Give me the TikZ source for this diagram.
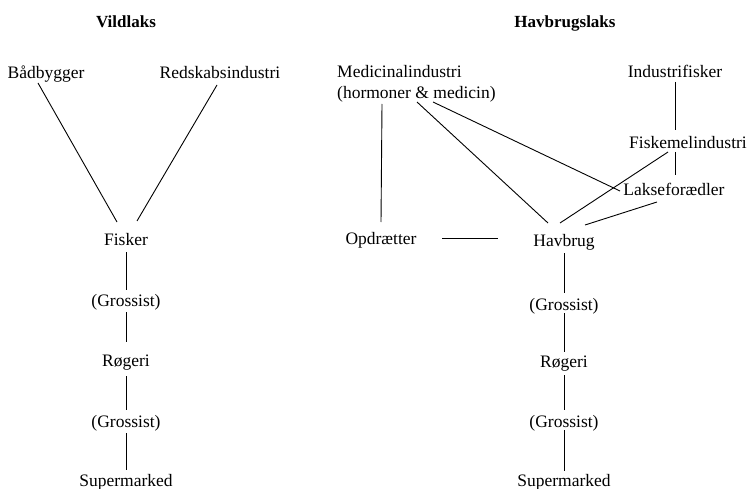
\documentclass[tikz,border=0pt]{standalone}
\usepackage{fontspec}
\setmainfont{Liberation Serif}
\usetikzlibrary{calc}
\begin{document}
\begin{tikzpicture}[x=1pt,y=-1pt,
  lbl/.style={inner sep=0pt,anchor=base,font=\fontsize{17.5}{21}\selectfont},
  ttl/.style={inner sep=0pt,anchor=base,font=\fontsize{17}{20}\selectfont\bfseries},
  ln/.style={line width=0.9pt}]
\useasboundingbox (0,0) rectangle (749,489);
% titles
\node[ttl] (t1) at (126,28) {Vildlaks};
\node[ttl] (t2) at (565,28) {Havbrugslaks};
% left
\node[lbl] (bad) at (46,79) {Bådbygger};
\node[lbl] (red) at (220,79) {Redskabsindustri};
\node[lbl] (fisk) at (126,245) {Fisker};
\node[lbl] (g1) at (126,306) {(Grossist)};
\node[lbl] (rog) at (126,366) {Røgeri};
\node[lbl] (g2) at (126,427) {(Grossist)};
\node[lbl] (sup) at (126,486) {Supermarked};
% right
\node[lbl,anchor=west,align=left] (med) at (337,84) {Medicinalindustri\\(hormoner \& medicin)};
\node[lbl] (ind) at (675,78) {Industrifisker};
\node[lbl] (fm) at (688,149) {Fiskemelindustri};
\node[lbl] (lk) at (674,196) {Lakseforædler};
\node[lbl] (opd) at (381,244) {Opdrætter};
\node[lbl] (hav) at (564,246) {Havbrug};
\node[lbl] (g3) at (564,310) {(Grossist)};
\node[lbl] (rog2) at (564,367) {Røgeri};
\node[lbl] (g4) at (564,427) {(Grossist)};
\node[lbl] (sup2) at (564,486) {Supermarked};
% left connectors
\draw[ln] ($(bad.base)+(-8,4)$) -- ($(fisk.base)+(-9,-23)$);
\draw[ln] ($(red.base)+(-3,6)$) -- ($(fisk.base)+(11,-24)$);
\draw[ln] ($(fisk.base)+(0,7)$) -- ($(g1.base)+(0,-16)$);
\draw[ln] ($(g1.base)+(0,6)$) -- ($(rog.base)+(0,-24)$);
\draw[ln] ($(rog.base)+(0,10)$) -- ($(g2.base)+(0,-17)$);
\draw[ln] ($(g2.base)+(0,6)$) -- ($(sup.base)+(0,-16)$);
% right connectors
\draw[ln] ($(med.west)+(45,20)$) -- ($(opd.base)+(0,-22)$);
\draw[ln] ($(med.west)+(80,18)$) -- ($(hav.base)+(-16,-23)$);
\draw[ln] ($(med.west)+(96,18)$) -- ($(lk.base)+(-54,-5)$);
\draw[ln] ($(opd.base)+(61,-6)$) -- ($(hav.base)+(-66,-8)$);
\draw[ln] ($(fm.base)+(-20,3)$) -- ($(hav.base)+(-4,-23)$);
\draw[ln] ($(lk.base)+(-17,6)$) -- ($(hav.base)+(21,-21)$);
\draw[ln] ($(ind.base)+(0,4)$) -- ($(fm.base)+(-13,-19)$);
\draw[ln] ($(fm.base)+(-13,3)$) -- ($(lk.base)+(1,-21)$);
\draw[ln] ($(hav.base)+(0,7)$) -- ($(g3.base)+(0,-17)$);
\draw[ln] ($(g3.base)+(0,3)$) -- ($(rog2.base)+(0,-15)$);
\draw[ln] ($(rog2.base)+(0,8)$) -- ($(g4.base)+(0,-17)$);
\draw[ln] ($(g4.base)+(0,3)$) -- ($(sup2.base)+(0,-15)$);
\end{tikzpicture}
\end{document}
